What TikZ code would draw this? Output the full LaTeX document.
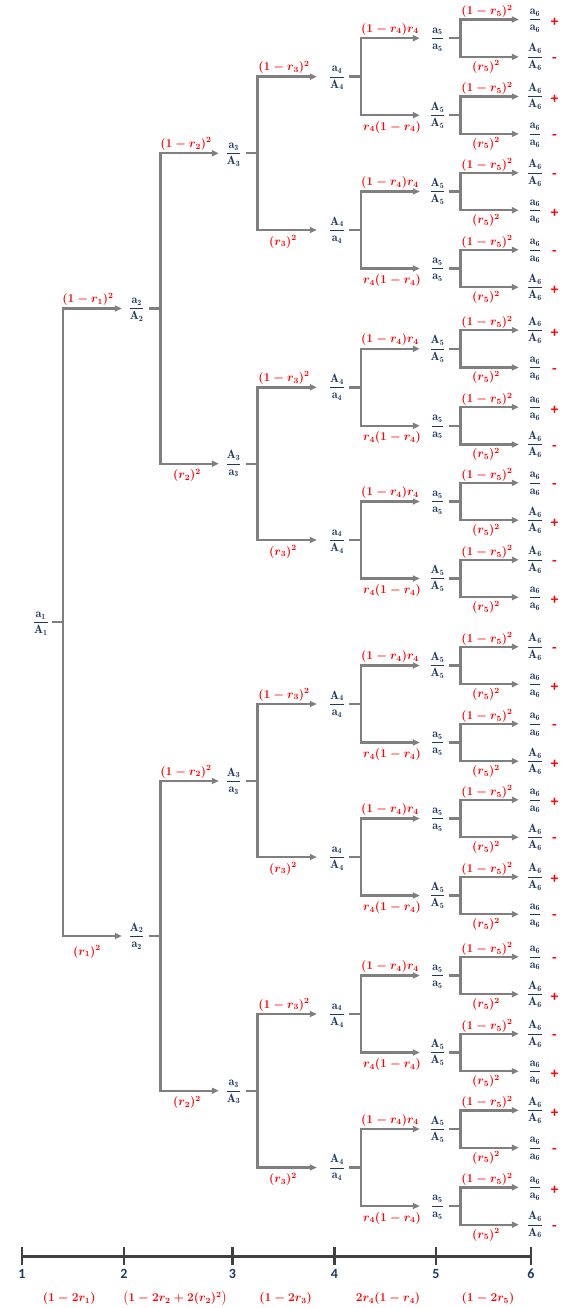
\documentclass[tikz,border=0pt]{standalone}
\usepackage{amsmath}
\usepackage{fontspec}
\newfontfamily\carl{Carlito}
\usetikzlibrary{arrows.meta,calc}
\definecolor{nav}{HTML}{1F3864}
\definecolor{rd}{HTML}{FF0000}
\definecolor{lng}{HTML}{7F7F7F}
\definecolor{axc}{HTML}{404040}
\newcommand{\frc}[3]{$\dfrac{\vphantom{A}\mathbf{#1}_{\mathbf{#3}}}{\vphantom{A}\mathbf{#2}_{\mathbf{#3}}}$}
\tikzset{
  nd/.style={text=nav, inner xsep=0pt, inner ysep=1pt, minimum width=18pt, font=\fontsize{12}{14}\selectfont},
  lb/.style={text=rd, inner sep=0pt, anchor=base, font=\fontsize{12}{14}\selectfont\boldmath},
  sg/.style={text=rd, inner sep=0pt, font=\carl\bfseries\fontsize{15}{16}\selectfont},
  ln/.style={draw=lng, line width=2.4pt},
  arw/.style={draw=lng, line width=2.4pt, -{Triangle[length=7pt,width=6pt]}},
  axl/.style={draw=axc, line width=2.8pt},
  num/.style={text=nav, inner sep=0pt, font=\carl\bfseries\fontsize{14}{16}\selectfont},
}
\begin{document}
\begin{tikzpicture}[x=1pt,y=-1pt]
\useasboundingbox (0,0) rectangle (588,1308);
% level 5 and leaves
\foreach \k/\y/\t/\o/\sa/\sb in {
1/38.2/a/A/+/-, 2/115.2/A/a/+/-, 3/191.5/A/a/-/+, 4/268.5/a/A/-/+,
5/348.8/A/a/+/-, 6/425.8/a/A/+/-, 7/501.5/a/A/-/+, 8/578.5/A/a/-/+,
9/665.5/A/a/-/+, 10/742.5/a/A/-/+, 11/818.5/a/A/+/-, 12/895.5/A/a/+/-,
13/975.5/a/A/-/+, 14/1052.5/A/a/-/+, 15/1129/A/a/+/-, 16/1206/a/A/+/-}{
  \node[nd] (e\k) at (437.5,\y) {\frc{\t}{\t}{5}};
  \node[nd] (fa\k) at (535,\y-18.7) {\frc{\t}{\t}{6}};
  \node[nd] (fb\k) at (535,\y+18.7) {\frc{\o}{\o}{6}};
  \node[sg] (sa\k) at (554.5,\y-15.7) {\sa};
  \node[sg] (sb\k) at (554.5,\y+21.7) {\sb};
  \coordinate (je\k) at (460.5,\y);
  \draw[ln, shorten <=2pt] (e\k) -- (je\k);
  \draw[arw, shorten >=7pt] (je\k) |- (fa\k.west);
  \draw[arw, shorten >=7pt] (je\k) |- (fb\k.west);
  \node[lb] at (487,\y-18.7-4.5) {$(1-r_5)^2$};
  \node[lb] at (486,\y+18.7+13.3) {$(r_5)^2$};
  \ifodd\k\relax
    \node[lb] at (390,\y-6) {$(1-r_4)r_4$};
  \else
    \node[lb] at (392,\y+15) {$r_4(1-r_4)$};
  \fi
}
% level 4
\foreach \k/\y/\t/\b in {1/76.7/a/A, 2/230/A/a, 3/387.3/A/a, 4/540/a/A, 5/704/A/a, 6/857/a/A, 7/1014/a/A, 8/1167.5/A/a}{
  \pgfmathtruncatemacro\ka{2*\k-1}
  \pgfmathtruncatemacro\kb{2*\k}
  \node[nd] (d\k) at (337,\y) {\frc{\t}{\b}{4}};
  \coordinate (jd\k) at (361,\y);
  \draw[ln, shorten <=3pt] (d\k) -- (jd\k);
  \draw[arw, shorten >=8.5pt] (jd\k) |- (e\ka.west);
  \draw[arw, shorten >=8.5pt] (jd\k) |- (e\kb.west);
  \ifodd\k\relax
    \node[lb] at (284,\y-6) {$(1-r_3)^2$};
  \else
    \node[lb] at (283,\y+15) {$(r_3)^2$};
  \fi
}
% level 3
\foreach \k/\y/\t/\b in {1/153.3/a/A, 2/463.7/A/a, 3/781/A/a, 4/1090.7/a/A}{
  \pgfmathtruncatemacro\ka{2*\k-1}
  \pgfmathtruncatemacro\kb{2*\k}
  \node[nd] (c\k) at (233.7,\y) {\frc{\t}{\b}{3}};
  \coordinate (jc\k) at (257.5,\y);
  \draw[ln, shorten <=3pt] (c\k) -- (jc\k);
  \draw[arw, shorten >=11pt] (jc\k) |- (d\ka.west);
  \draw[arw, shorten >=11pt] (jc\k) |- (d\kb.west);
  \ifodd\k\relax
    \node[lb] at (186,\y-6) {$(1-r_2)^2$};
  \else
    \node[lb] at (187,\y+14.7) {$(r_2)^2$};
  \fi
}
% level 2
\node[nd] (b1) at (136.7,308.5) {\frc{a}{A}{2}};
\node[nd] (b2) at (136.7,936) {\frc{A}{a}{2}};
\foreach \k in {1,2}{
  \pgfmathtruncatemacro\ka{2*\k-1}
  \pgfmathtruncatemacro\kb{2*\k}
  \coordinate (jb\k) at (160.5,0 |- b\k);
  \draw[ln, shorten <=2.6pt] (b\k) -- (jb\k);
  \draw[arw, shorten >=5.7pt] (jb\k) |- (c\ka.west);
  \draw[arw, shorten >=5.7pt] (jb\k) |- (c\kb.west);
}
\node[lb] at (88,308.5-6) {$(1-r_1)^2$};
\node[lb] at (87,936+19) {$(r_1)^2$};
% root
\node[nd] (a1) at (40.8,622.2) {\frc{a}{A}{1}};
\coordinate (ja) at (63,622.2);
\draw[ln, shorten <=2pt] (a1) -- (ja);
\draw[arw, shorten >=5.7pt] (ja) |- (b1.west);
\draw[arw, shorten >=5.7pt] (ja) |- (b2.west);
% axis
\foreach \i/\x in {1/22,2/124,3/232.5,4/334.5,5/436,6/531}{
  \coordinate (t\i) at (\x,1256.5);
  \draw[axl] ($(t\i)+(0,-9.5)$) -- ($(t\i)+(0,8.5)$);
  \node[num] (n\i) at (\x,1273.8) {\i};
}
\draw[axl] (t1) -- (t6);
\node[lb, anchor=center] (f1) at (69.2,1298.5) {$(1-2r_1)$};
\node[lb, anchor=center] (f2) at (175,1298.5) {$\bigl(1-2r_2+2(r_2)^2\bigr)$};
\node[lb, anchor=center] (f3) at (285.6,1298.5) {$(1-2r_3)$};
\node[lb, anchor=center] (f4) at (388,1298.5) {$2r_4(1-r_4)$};
\node[lb, anchor=center] (f5) at (488,1298.5) {$(1-2r_5)$};
\end{tikzpicture}
\end{document}
